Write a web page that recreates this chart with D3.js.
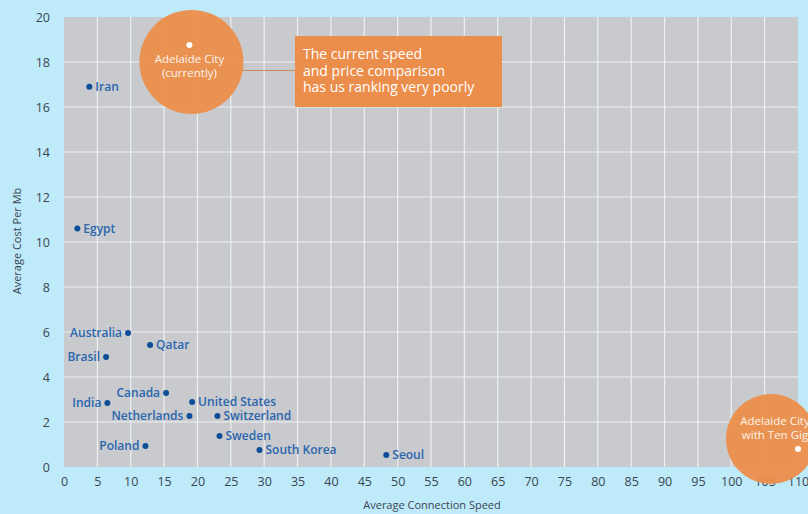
<!DOCTYPE html>
<html>
<head>
<meta charset="utf-8">
<script src="https://cdn.jsdelivr.net/npm/d3@7"></script>
<style>
    body { margin: 0; background: #bfeaf9; }
    svg { display: block; font-family: 'Open Sans', 'Noto Sans', sans-serif; }
</style>
</head>
<body>
<svg id="chart"></svg>
<script>
// values
const countries = ['Iran', 'Egypt', 'Australia', 'Qatar', 'Brasil', 'Canada', 'India', 'United States',
    'Netherlands', 'Switzerland', 'Sweden', 'Poland', 'South Korea', 'Seoul']
const speed = [3.8, 2.0, 9.6, 12.9, 6.3, 15.3, 6.5, 19.2, 18.8, 23.0, 23.3, 12.2, 29.3, 48.3]
const cost = [16.9, 10.6, 5.96, 5.42, 4.89, 3.29, 2.84, 2.89, 2.27, 2.27, 1.38, 0.93, 0.76, 0.53]

const adelaideNames = [['Adelaide City', '(currently)'], ['Adelaide City', 'with Ten Gig']]
const adelaideSpeed = [18.8, 110]
const adelaideCost = [18.76, 0.8]

const noteLines = ['The current speed', 'and price comparison', 'has us ranking very poorly']

const xTicks = [0, 5, 10, 15, 20, 25, 30, 35, 40, 45, 50, 55, 60, 65, 70, 75, 80, 85, 90, 95, 100, 105, 110]
const yTicks = [0, 2, 4, 6, 8, 10, 12, 14, 16, 18, 20]

const width = 808
const height = 514
const svg = d3.select('#chart').attr('width', width).attr('height', height)

const x = d3.scaleLinear().domain([0, 110]).range([64, 798])
const y = d3.scaleLinear().domain([0, 20]).range([467, 17])

// grey plot area + white grid
svg.append('rect')
    .attr('x', x(0)).attr('y', y(20))
    .attr('width', x(110) - x(0)).attr('height', y(0) - y(20))
    .attr('fill', '#c9cacd')

svg.append('g')
    .selectAll('line')
    .data(xTicks.slice(1, -1))
    .join('line')
    .attr('x1', d => x(d)).attr('x2', d => x(d))
    .attr('y1', y(20)).attr('y2', y(0))
    .attr('stroke', '#eef0f2').attr('stroke-width', 1.2)

svg.append('g')
    .selectAll('line')
    .data(yTicks.slice(1, -1))
    .join('line')
    .attr('x1', x(0)).attr('x2', x(110))
    .attr('y1', d => y(d)).attr('y2', d => y(d))
    .attr('stroke', '#eef0f2').attr('stroke-width', 1.2)

// axes
svg.append('g')
    .attr('transform', 'translate(0,' + y(0) + ')')
    .call(d3.axisBottom(x).tickValues(xTicks).tickSize(0).tickPadding(10))
svg.append('g')
    .attr('transform', 'translate(' + x(0) + ',0)')
    .call(d3.axisLeft(y).tickValues(yTicks).tickSize(0).tickPadding(14))
svg.selectAll('.domain').remove()
svg.selectAll('.tick text')
    .attr('fill', '#3a4652')
    .style('font-size', '12.5px')
    .style('font-family', "'Open Sans', sans-serif")

svg.append('text')
    .attr('x', 432).attr('y', 509)
    .attr('text-anchor', 'middle')
    .attr('fill', '#3a4652')
    .style('font-size', '11px')
    .text('Average Connection Speed')

svg.append('text')
    .attr('transform', 'translate(21,241) rotate(-90)')
    .attr('text-anchor', 'middle')
    .attr('fill', '#3a4652')
    .style('font-size', '11px')
    .text('Average Cost Per Mb')

// country dots
const leftLabels = ['Australia', 'Brasil', 'Canada', 'India', 'Netherlands', 'Poland']
const points = countries.map((c, i) => ({name: c, speed: speed[i], cost: cost[i]}))

const dots = svg.append('g')
dots.selectAll('circle')
    .data(points)
    .join('circle')
    .attr('cx', d => x(d.speed))
    .attr('cy', d => y(d.cost))
    .attr('r', 3)
    .attr('fill', '#0c4e98')

dots.selectAll('text')
    .data(points)
    .join('text')
    .attr('x', d => x(d.speed) + (leftLabels.includes(d.name) ? -6 : 6))
    .attr('y', d => y(d.cost) + 4)
    .attr('text-anchor', d => leftLabels.includes(d.name) ? 'end' : 'start')
    .attr('fill', '#2966ad')
    .style('font-size', '12px')
    .style('font-weight', 600)
    .text(d => d.name)

// adelaide bubbles: [dx, dy, r] of the bubble, [dx, dy] of its text
const bubbleShift = [[2, 17, 52], [-27, -10, 45]]
const textShift = [[0, 18], [-23, -24]]
adelaideNames.forEach((lines, i) => {
    const cx = x(adelaideSpeed[i])
    const cy = y(adelaideCost[i])
    const g = svg.append('g')
    g.append('circle')
        .attr('cx', cx + bubbleShift[i][0])
        .attr('cy', cy + bubbleShift[i][1])
        .attr('r', bubbleShift[i][2])
        .attr('fill', '#ec8e4b')
        .attr('fill-opacity', 0.95)
    g.append('circle')
        .attr('cx', cx).attr('cy', cy).attr('r', 3)
        .attr('fill', 'white')
    g.selectAll('text')
        .data(lines)
        .join('text')
        .attr('x', cx + textShift[i][0])
        .attr('y', (d, j) => cy + textShift[i][1] + j * 14)
        .attr('text-anchor', 'middle')
        .attr('fill', '#fdf3ea')
        .style('font-size', '11.5px')
        .text(d => d)
})

// note box with connector
svg.append('line')
    .attr('x1', 242).attr('x2', 295)
    .attr('y1', 70.5).attr('y2', 70.5)
    .attr('stroke', '#d08a5a').attr('stroke-width', 1)

svg.append('rect')
    .attr('x', 295).attr('y', 36)
    .attr('width', 207).attr('height', 71)
    .attr('fill', '#ec8e4b')

svg.append('g')
    .selectAll('text')
    .data(noteLines)
    .join('text')
    .attr('x', 303)
    .attr('y', (d, i) => 59 + i * 16.5)
    .attr('fill', 'white')
    .style('font-size', '14px')
    .text(d => d)
</script>
</body>
</html>
